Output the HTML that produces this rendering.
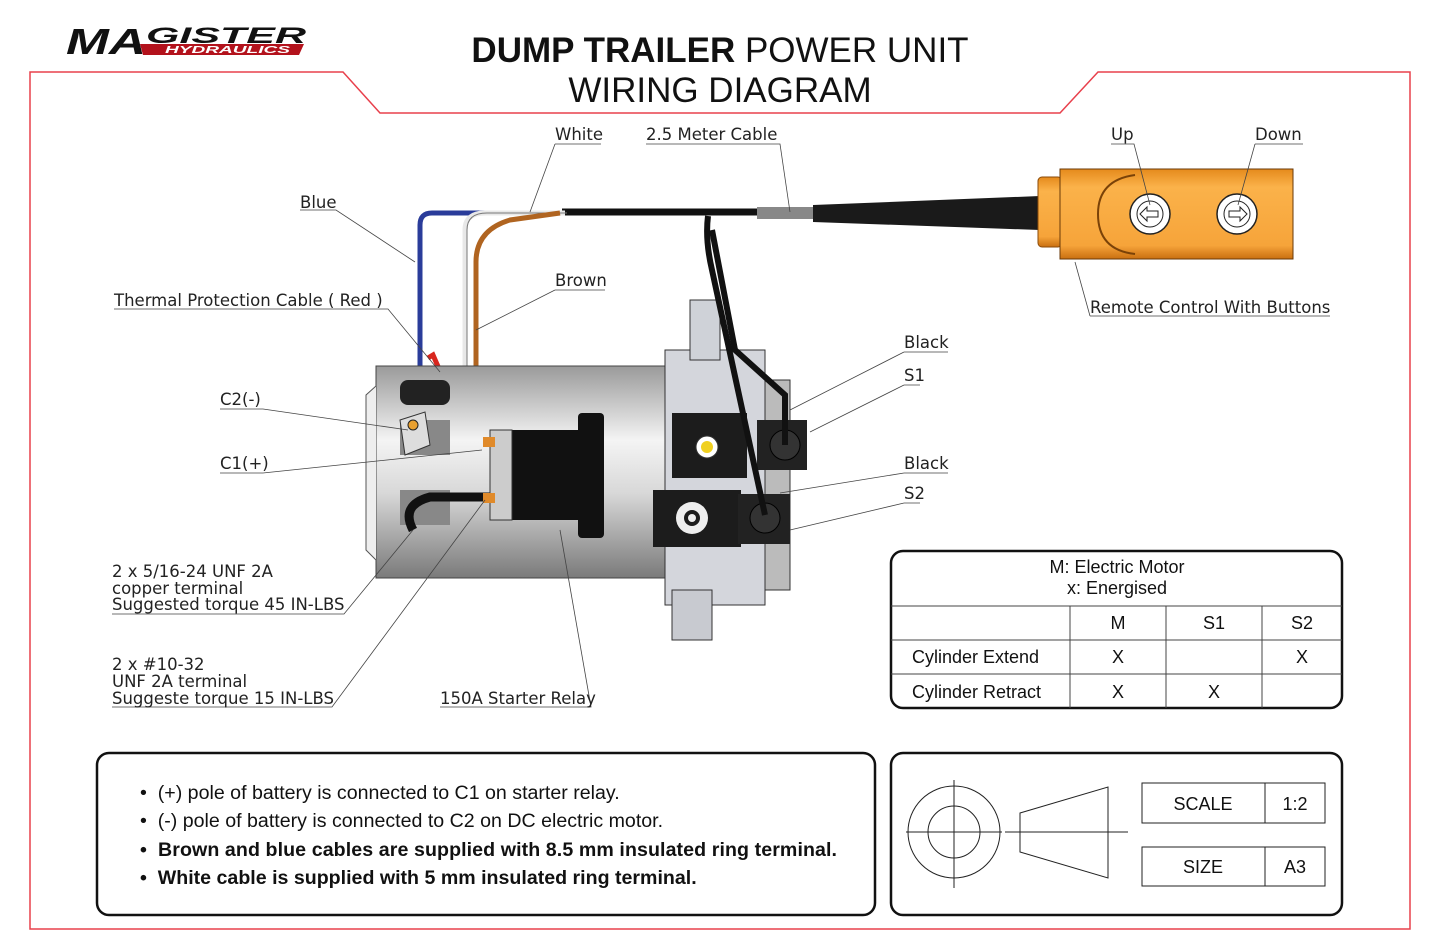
<!DOCTYPE html>
<html><head><meta charset="utf-8"><style>
html,body{margin:0;padding:0;background:#fff;}
svg{display:block;}
.l{font-family:"DejaVu Sans","Liberation Sans",sans-serif;font-size:16.5px;fill:#222;}
.t{font-family:"Liberation Sans",sans-serif;font-size:18px;fill:#111;}
.n{font-family:"Liberation Sans",sans-serif;font-size:19.6px;fill:#111;}
</style></head><body>
<svg width="1440" height="939" viewBox="0 0 1440 939" xmlns="http://www.w3.org/2000/svg">
<defs>
<linearGradient id="mg" x1="0" y1="0" x2="0" y2="1">
<stop offset="0" stop-color="#9a9a9a"/><stop offset="0.35" stop-color="#f4f4f4"/><stop offset="0.6" stop-color="#d8d8d8"/><stop offset="1" stop-color="#7a7a7a"/>
</linearGradient>
<linearGradient id="og" x1="0" y1="0" x2="0" y2="1">
<stop offset="0" stop-color="#e58a1c"/><stop offset="0.2" stop-color="#fbb24a"/><stop offset="0.85" stop-color="#f6a43a"/><stop offset="1" stop-color="#c96f10"/>
</linearGradient>
</defs>
<!-- frame -->
<path d="M30,72 H343 L380,113 H1060 L1098,72 H1410 V929 H30 Z" fill="none" stroke="#e8404c" stroke-width="1.5"/>
<!-- logo -->
<text x="66" y="54" textLength="80" lengthAdjust="spacingAndGlyphs" font-family="Liberation Sans,sans-serif" font-weight="bold" font-style="italic" font-size="36" fill="#111">MA</text>
<text x="146" y="43" textLength="160" lengthAdjust="spacingAndGlyphs" font-family="Liberation Sans,sans-serif" font-weight="bold" font-style="italic" font-size="22" fill="#111">GISTER</text>
<path d="M140,44 H304 L299,55 H143 Z" fill="#b3121c"/>
<text x="165" y="53" textLength="125" lengthAdjust="spacingAndGlyphs" font-family="Liberation Sans,sans-serif" font-weight="bold" font-style="italic" font-size="10" fill="#fff">HYDRAULICS</text>
<!-- title -->
<text x="720" y="62" text-anchor="middle" font-family="Liberation Sans,sans-serif" font-size="35" fill="#111"><tspan font-weight="bold">DUMP TRAILER</tspan> POWER UNIT</text>
<text x="720" y="102" text-anchor="middle" font-family="Liberation Sans,sans-serif" font-size="35" fill="#111">WIRING DIAGRAM</text>

<!-- cables -->
<path d="M562,212 H760" stroke="#111" stroke-width="7" fill="none"/>
<rect x="757" y="207" width="56" height="12" fill="#888"/>
<path d="M813,205 L1040,196 V230 L813,222 Z" fill="#1a1a1a"/>
<path d="M420,400 V225 Q420,213 432,213 H500" stroke="#2a3c9a" stroke-width="5" fill="none"/>
<path d="M465,470 V230 Q465,213 485,213 H565" stroke="#e8e8e8" stroke-width="5" fill="none"/>
<path d="M465,470 V230 Q465,213 485,213 H565" stroke="#777" stroke-width="1" fill="none" transform="translate(2,0)"/>
<path d="M476,450 V262 Q476,230 510,220 L560,213" stroke="#b06420" stroke-width="5" fill="none"/>
<path d="M428,358 L433,355 L470,440 L478,462" stroke="#d8261e" stroke-width="5" fill="none"/>

<!-- motor -->
<rect x="376" y="366" width="290" height="212" fill="url(#mg)" stroke="#444"/>
<path d="M376,386 L366,395 V550 L376,560" fill="#eee" stroke="#555"/>
<rect x="400" y="380" width="50" height="25" rx="8" fill="#222"/>
<rect x="400" y="420" width="50" height="35" fill="#888"/>
<polygon points="400,420 425,412 430,445 405,455" fill="#ddd" stroke="#333"/>
<circle cx="413" cy="425" r="5" fill="#e8a030" stroke="#222"/>
<rect x="400" y="490" width="50" height="35" fill="#888"/>
<path d="M413,530 Q400,505 430,497 H500" stroke="#111" stroke-width="9" fill="none"/>
<!-- relay -->
<rect x="510" y="430" width="70" height="90" fill="#111"/>
<rect x="578" y="413" width="26" height="125" rx="4" fill="#111"/>
<rect x="490" y="430" width="22" height="90" fill="#ccc" stroke="#333"/>
<rect x="483" y="437" width="12" height="10" fill="#e08a2a"/>
<rect x="483" y="493" width="12" height="10" fill="#e08a2a"/>
<!-- valve block -->
<rect x="665" y="350" width="100" height="255" fill="#d4d6dc" stroke="#333"/>
<rect x="690" y="300" width="30" height="60" fill="#cfd2d8" stroke="#333"/>
<rect x="672" y="590" width="40" height="50" fill="#c8cad0" stroke="#333"/>
<rect x="765" y="380" width="25" height="210" fill="#bbb" stroke="#333"/>
<rect x="672" y="413" width="75" height="65" fill="#1c1c1c"/>
<circle cx="707" cy="447" r="11" fill="#fff" stroke="#333"/><circle cx="707" cy="447" r="6" fill="#f0d020"/>
<rect x="757" y="420" width="50" height="50" fill="#222"/>
<circle cx="785" cy="445" r="15" fill="#333" stroke="#000"/>
<rect x="653" y="490" width="88" height="57" fill="#1c1c1c"/>
<circle cx="692" cy="518" r="16" fill="#eee"/><circle cx="692" cy="518" r="8" fill="#1c1c1c"/><circle cx="692" cy="518" r="4" fill="#eee"/>
<rect x="738" y="494" width="52" height="50" fill="#222"/>
<circle cx="765" cy="518" r="15" fill="#333" stroke="#000"/>
<!-- black cables over block -->
<path d="M708,216 Q705,240 712,270 L765,515" stroke="#111" stroke-width="6" fill="none"/>
<path d="M712,230 L735,350 L785,395 V445" stroke="#111" stroke-width="6" fill="none"/>

<!-- remote -->
<rect x="1038" y="177" width="24" height="70" rx="4" fill="url(#og)" stroke="#8a4a08"/>
<rect x="1060" y="169" width="233" height="90" fill="url(#og)" stroke="#6a3a08"/>
<path d="M1135,175 Q1098,180 1098,214 Q1098,250 1135,254" fill="none" stroke="#7a4208" stroke-width="2"/>
<circle cx="1150" cy="214" r="20" fill="#fff" stroke="#222" stroke-width="1.5"/><circle cx="1150" cy="214" r="13" fill="none" stroke="#222"/>
<path d="M1140,214 L1147,207 V211 H1158 V217 H1147 V221 Z" fill="#fff" stroke="#222"/>
<circle cx="1237" cy="214" r="20" fill="#fff" stroke="#222" stroke-width="1.5"/><circle cx="1237" cy="214" r="13" fill="none" stroke="#222"/>
<path d="M1247,214 L1240,207 V211 H1229 V217 H1240 V221 Z" fill="#fff" stroke="#222"/>

<!-- labels & leaders -->
<g stroke="#444" stroke-width="0.8" fill="none">
<path d="M555,144 H601 M555,144 L530,212"/>
<path d="M646,144 H780 L790,212"/>
<path d="M1111,144 H1134 L1150,205"/>
<path d="M1255,144 H1303 M1255,144 L1238,205"/>
<path d="M300,210 H336 L415,262"/>
<path d="M555,290 H605 M555,290 L476,330"/>
<path d="M114,309 H388 L440,372"/>
<path d="M1090,316 H1330 M1090,316 L1075,262"/>
<path d="M904,352 H948 M904,352 L790,410"/>
<path d="M904,385 H920 M904,385 L810,432"/>
<path d="M904,473 H948 M904,473 L780,493"/>
<path d="M904,503 H920 M904,503 L790,530"/>
<path d="M220,409 H263 L408,430"/>
<path d="M220,473 H263 L482,450"/>
<path d="M112,614 H344 L413,530"/>
<path d="M112,707 H332 L485,500"/>
<path d="M440,707 H591 L560,530"/>
</g>
<text class="l" x="555" y="140">White</text>
<text class="l" x="646" y="140">2.5 Meter Cable</text>
<text class="l" x="1111" y="140">Up</text>
<text class="l" x="1255" y="140">Down</text>
<text class="l" x="300" y="208">Blue</text>
<text class="l" x="555" y="286">Brown</text>
<text class="l" x="114" y="306">Thermal Protection Cable ( Red )</text>
<text class="l" x="1090" y="313">Remote Control With Buttons</text>
<text class="l" x="904" y="348">Black</text>
<text class="l" x="904" y="381">S1</text>
<text class="l" x="904" y="469">Black</text>
<text class="l" x="904" y="499">S2</text>
<text class="l" x="220" y="405">C2(-)</text>
<text class="l" x="220" y="469">C1(+)</text>
<text class="l" x="112" y="577">2 x 5/16-24 UNF 2A</text>
<text class="l" x="112" y="594">copper terminal</text>
<text class="l" x="112" y="610">Suggested torque 45 IN-LBS</text>
<text class="l" x="112" y="670">2 x #10-32</text>
<text class="l" x="112" y="687">UNF 2A terminal</text>
<text class="l" x="112" y="704">Suggeste torque 15 IN-LBS</text>
<text class="l" x="440" y="704">150A Starter Relay</text>

<!-- table -->
<rect x="891" y="551" width="451" height="157" rx="12" fill="none" stroke="#111" stroke-width="2.5"/>
<g stroke="#444" stroke-width="1"><path d="M891,606 H1342 M891,640 H1342 M891,674 H1342 M1070,606 V708 M1166,606 V708 M1262,606 V708"/></g>
<text class="t" x="1117" y="573" text-anchor="middle">M: Electric Motor</text>
<text class="t" x="1117" y="594" text-anchor="middle">x: Energised</text>
<text class="t" x="1118" y="629" text-anchor="middle">M</text><text class="t" x="1214" y="629" text-anchor="middle">S1</text><text class="t" x="1302" y="629" text-anchor="middle">S2</text>
<text class="t" x="912" y="663">Cylinder Extend</text><text class="t" x="1118" y="663" text-anchor="middle">X</text><text class="t" x="1302" y="663" text-anchor="middle">X</text>
<text class="t" x="912" y="698">Cylinder Retract</text><text class="t" x="1118" y="698" text-anchor="middle">X</text><text class="t" x="1214" y="698" text-anchor="middle">X</text>

<!-- notes -->
<rect x="97" y="753" width="778" height="162" rx="12" fill="none" stroke="#111" stroke-width="2.5"/>
<text class="n" x="140" y="799">•&#160; (+) pole of battery is connected to C1 on starter relay.</text>
<text class="n" x="140" y="827">•&#160; (-) pole of battery is connected to C2 on DC electric motor.</text>
<text class="n" x="140" y="856" font-weight="bold" textLength="697">•&#160; Brown and blue cables are supplied with 8.5 mm insulated ring terminal.</text>
<text class="n" x="140" y="884" font-weight="bold">•&#160; White cable is supplied with 5 mm insulated ring terminal.</text>

<!-- title block -->
<rect x="891" y="753" width="451" height="162" rx="12" fill="none" stroke="#111" stroke-width="2.5"/>
<g stroke="#222" stroke-width="1" fill="none">
<circle cx="954" cy="832" r="46"/><circle cx="954" cy="832" r="26"/>
<path d="M906,832 H1002 M954,780 V888"/>
<path d="M1020,813 L1108,787 V878 L1020,852 Z"/>
<path d="M1005,832 H1128"/>
<rect x="1142" y="783" width="183" height="40"/><path d="M1265,783 V823"/>
<rect x="1142" y="847" width="183" height="39"/><path d="M1265,847 V886"/>
</g>
<text class="t" x="1203" y="810" text-anchor="middle">SCALE</text><text class="t" x="1295" y="810" text-anchor="middle">1:2</text>
<text class="t" x="1203" y="873" text-anchor="middle">SIZE</text><text class="t" x="1295" y="873" text-anchor="middle">A3</text>
</svg>
</body></html>
